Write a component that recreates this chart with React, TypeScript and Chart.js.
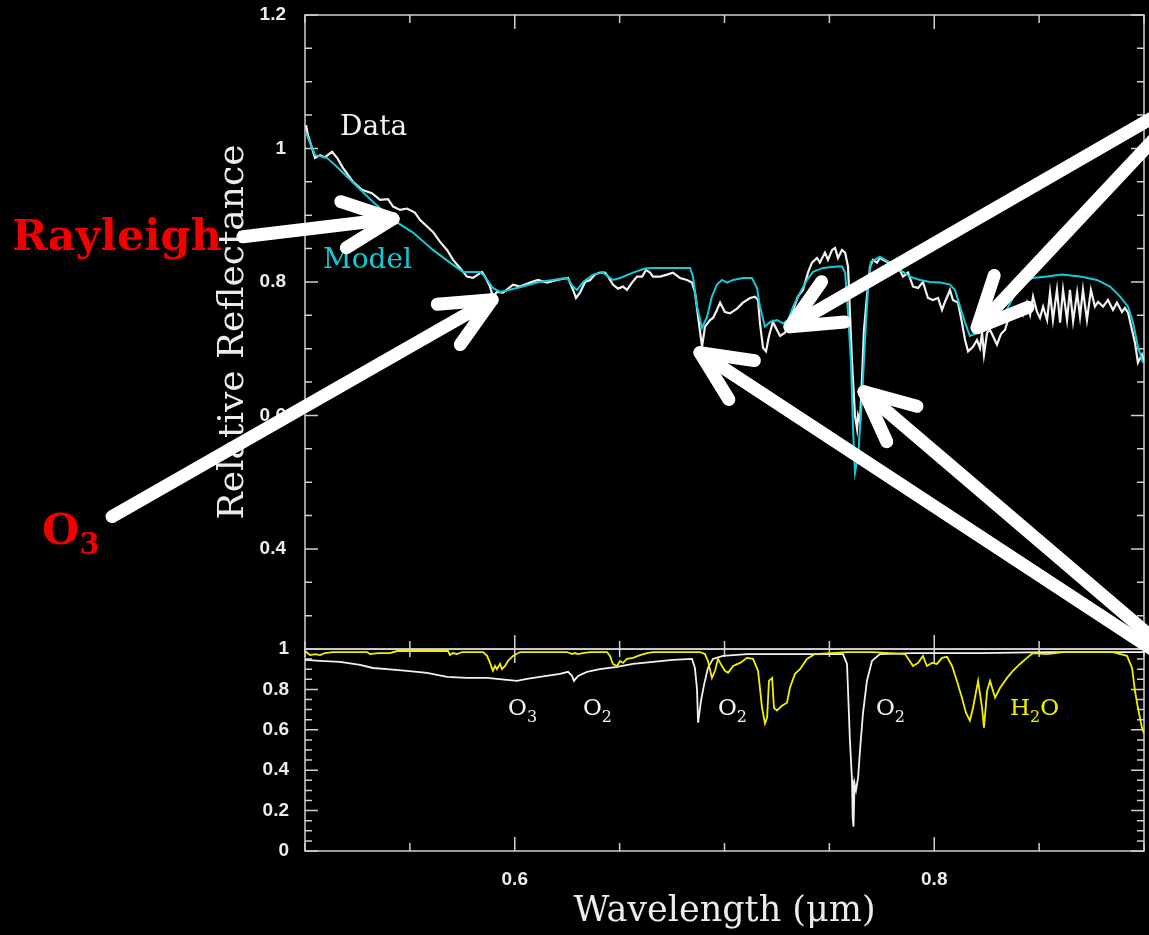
import React, { useEffect, useRef } from "react";
import { Chart, registerables } from "chart.js";

Chart.register(...registerables);

// ---------- Upper panel: relative reflectance ----------
const DATA_WL = [
  0.5005, 0.5014, 0.5048, 0.5072, 0.5095, 0.5129, 0.5153, 0.5181, 0.5229, 0.5272,
  0.5319, 0.5358, 0.5396, 0.542, 0.5453, 0.5486, 0.5524, 0.5548, 0.5582, 0.561,
  0.5644, 0.5677, 0.5706, 0.5739, 0.5772, 0.5801, 0.5844, 0.5858, 0.5882, 0.5896,
  0.5915, 0.5944, 0.5992, 0.6025, 0.6073, 0.6111, 0.6154, 0.6201, 0.6254, 0.6278,
  0.6292, 0.6311, 0.6335, 0.6359, 0.6383, 0.6406, 0.643, 0.6445, 0.6468, 0.6492,
  0.6516, 0.6535, 0.6559, 0.6583, 0.6607, 0.6626, 0.6645, 0.6659, 0.6693, 0.6726,
  0.6754, 0.6788, 0.6821, 0.6845, 0.6859, 0.6874, 0.6893, 0.6907, 0.6931, 0.6945,
  0.6964, 0.6979, 0.7002, 0.7026, 0.706, 0.7088, 0.7122, 0.7145, 0.716, 0.7169,
  0.7184, 0.7198, 0.7212, 0.7231, 0.725, 0.7265, 0.7288, 0.7303, 0.7327, 0.735,
  0.7374, 0.7398, 0.7417, 0.7441, 0.7455, 0.7479, 0.7493, 0.7513, 0.7527, 0.7541,
  0.756, 0.7575, 0.7589, 0.7598, 0.7608, 0.7622, 0.7632, 0.7637, 0.7646, 0.7656,
  0.7665, 0.7679, 0.7694, 0.7708, 0.7727, 0.7741, 0.7775, 0.7803, 0.7827, 0.7851,
  0.7875, 0.7899, 0.7923, 0.7946, 0.797, 0.7994, 0.8018, 0.8037, 0.8051, 0.8075,
  0.8089, 0.8113, 0.8132, 0.8147, 0.8161, 0.8185, 0.8204, 0.8218, 0.8228, 0.8237,
  0.8252, 0.8266, 0.828, 0.8299, 0.8318, 0.8337, 0.8352, 0.8371, 0.8385, 0.8409,
  0.8423, 0.8442, 0.8457, 0.8471, 0.849, 0.8504, 0.8519, 0.8538, 0.8552, 0.8566,
  0.8585, 0.86, 0.8614, 0.8633, 0.8647, 0.8662, 0.8681, 0.8695, 0.8709, 0.8728,
  0.8747, 0.8766, 0.8781, 0.8805, 0.8828, 0.8852, 0.8871, 0.8895, 0.8909, 0.8924,
  0.8943, 0.8957, 0.8971, 0.899, 0.9,
];
const DATA_R = [
  1.035, 1.02, 0.986, 0.99, 0.987, 0.995, 0.986, 0.971, 0.95, 0.938,
  0.933, 0.923, 0.924, 0.913, 0.908, 0.91, 0.904, 0.893, 0.883, 0.875,
  0.86, 0.848, 0.833, 0.821, 0.808, 0.806, 0.815, 0.808, 0.793, 0.778,
  0.785, 0.784, 0.796, 0.793, 0.799, 0.803, 0.799, 0.803, 0.806, 0.788,
  0.776, 0.784, 0.8, 0.803, 0.811, 0.814, 0.814, 0.808, 0.796, 0.79,
  0.793, 0.788, 0.799, 0.808, 0.808, 0.818, 0.814, 0.808, 0.808, 0.811,
  0.814, 0.806, 0.803, 0.799, 0.785, 0.748, 0.703, 0.733, 0.743, 0.746,
  0.758, 0.769, 0.755, 0.753, 0.76, 0.769, 0.776, 0.778, 0.773, 0.738,
  0.701, 0.696, 0.719, 0.74, 0.728, 0.719, 0.724, 0.733, 0.758, 0.778,
  0.788, 0.814, 0.829, 0.836, 0.829, 0.844, 0.833, 0.848, 0.851, 0.836,
  0.848, 0.844, 0.823, 0.754, 0.679, 0.6, 0.58, 0.6, 0.59, 0.659,
  0.728, 0.778, 0.823, 0.833, 0.829, 0.836, 0.83, 0.829, 0.823, 0.808,
  0.814, 0.793, 0.791, 0.8, 0.776, 0.773, 0.776, 0.758, 0.77, 0.788,
  0.773, 0.769, 0.739, 0.713, 0.696, 0.703, 0.713, 0.701, 0.724, 0.691,
  0.724, 0.728, 0.719, 0.706, 0.722, 0.728, 0.743, 0.751, 0.748, 0.763,
  0.751, 0.769, 0.751, 0.778, 0.755, 0.746, 0.763, 0.743, 0.784, 0.743,
  0.788, 0.739, 0.788, 0.743, 0.788, 0.741, 0.784, 0.748, 0.788, 0.743,
  0.788, 0.763, 0.77, 0.763, 0.773, 0.758, 0.769, 0.755, 0.761, 0.754,
  0.728, 0.709, 0.679, 0.691, 0.679,
];

const MODEL_WL = [
  0.5005, 0.5048, 0.5105, 0.5167, 0.5248, 0.5324, 0.542, 0.5515, 0.561, 0.5691,
  0.5753, 0.5834, 0.5858, 0.5896, 0.593, 0.6011, 0.6116, 0.6182, 0.6249, 0.6278,
  0.6297, 0.6326, 0.6373, 0.6421, 0.6468, 0.6502, 0.6564, 0.6621, 0.6659, 0.674,
  0.6836, 0.685, 0.6869, 0.6893, 0.6917, 0.694, 0.6964, 0.6988, 0.7012, 0.7041,
  0.7088, 0.7131, 0.7155, 0.7169, 0.7193, 0.7217, 0.725, 0.7279, 0.7303, 0.7327,
  0.736, 0.7393, 0.7422, 0.747, 0.7536, 0.756, 0.7575, 0.7589, 0.7603, 0.7613,
  0.7622, 0.7637, 0.7656, 0.767, 0.7684, 0.7698, 0.7741, 0.7789, 0.7837, 0.7884,
  0.7932, 0.798, 0.8028, 0.8075, 0.8099, 0.8123, 0.8147, 0.817, 0.8194, 0.8218,
  0.8252, 0.829, 0.8328, 0.8375, 0.8423, 0.8471, 0.8538, 0.8609, 0.8695, 0.8776,
  0.8838, 0.8886, 0.8924, 0.8948, 0.8971, 0.8995,
];
const MODEL_R = [
  1.023, 0.99, 0.986, 0.968, 0.943, 0.92, 0.893, 0.874, 0.848, 0.829,
  0.815, 0.815, 0.808, 0.791, 0.785, 0.791, 0.8, 0.803, 0.806, 0.793,
  0.788, 0.8, 0.811, 0.814, 0.803, 0.806, 0.814, 0.82, 0.821, 0.821,
  0.821, 0.808, 0.763, 0.731, 0.748, 0.778, 0.796, 0.803, 0.799, 0.803,
  0.806, 0.806, 0.791, 0.763, 0.733, 0.74, 0.743, 0.738, 0.743, 0.763,
  0.784, 0.803, 0.815, 0.821, 0.823, 0.823, 0.814, 0.754, 0.679, 0.579,
  0.514, 0.538, 0.628, 0.713, 0.788, 0.83, 0.838, 0.829, 0.818, 0.808,
  0.803, 0.8, 0.799, 0.796, 0.788, 0.763, 0.739, 0.719, 0.722, 0.731,
  0.736, 0.741, 0.748, 0.776, 0.799, 0.806, 0.808, 0.811, 0.808, 0.803,
  0.793, 0.778, 0.763, 0.739, 0.703, 0.679,
];

// ---------- Lower panel: transmission ----------
const O2O3_WL = [
  0.5, 0.5072, 0.5167, 0.5262, 0.5324, 0.5391, 0.5486, 0.5582, 0.5677, 0.5772,
  0.5868, 0.5963, 0.6011, 0.6058, 0.612, 0.6216, 0.6254, 0.6273, 0.6282, 0.6302,
  0.6344, 0.6406, 0.6488, 0.6564, 0.6659, 0.6754, 0.6845, 0.6859, 0.6869, 0.6874,
  0.6888, 0.6902, 0.6921, 0.6945, 0.6993, 0.7107, 0.7265, 0.7422, 0.7565, 0.7584,
  0.7589, 0.7598, 0.7608, 0.7611, 0.7615, 0.762, 0.7627, 0.7637, 0.7646, 0.766,
  0.7679, 0.7703, 0.7741, 0.7899, 0.8218, 0.8538, 0.9,
];
const O2O3_T = [
  0.946, 0.941, 0.936, 0.921, 0.906, 0.9, 0.892, 0.882, 0.862, 0.857,
  0.857, 0.847, 0.842, 0.852, 0.862, 0.877, 0.887, 0.867, 0.842, 0.867,
  0.887, 0.9, 0.911, 0.926, 0.936, 0.946, 0.951, 0.906, 0.8, 0.635,
  0.744, 0.82, 0.906, 0.951, 0.966, 0.975, 0.975, 0.975, 0.975, 0.926,
  0.793, 0.547, 0.35, 0.167, 0.12, 0.335, 0.3, 0.365, 0.498, 0.68,
  0.842, 0.941, 0.975, 0.98, 0.98, 0.985, 0.985,
];

const H2O_WL = [
  0.5, 0.5024, 0.5048, 0.5072, 0.5095, 0.5133, 0.5296, 0.531, 0.5348, 0.5405,
  0.5439, 0.5682, 0.5691, 0.5706, 0.5725, 0.5749, 0.5849, 0.5868, 0.5882, 0.5896,
  0.5906, 0.5915, 0.593, 0.5939, 0.5954, 0.5968, 0.5992, 0.6025, 0.6249, 0.6273,
  0.6287, 0.6302, 0.6325, 0.6359, 0.644, 0.6454, 0.6468, 0.6488, 0.6502, 0.6516,
  0.6535, 0.6564, 0.6597, 0.6631, 0.6659, 0.6883, 0.6907, 0.6921, 0.694, 0.6955,
  0.6969, 0.6988, 0.7002, 0.7017, 0.7041, 0.7074, 0.7107, 0.7136, 0.716, 0.7179,
  0.7193, 0.7203, 0.7212, 0.7227, 0.7236, 0.725, 0.7274, 0.7298, 0.7312, 0.7336,
  0.736, 0.7393, 0.7431, 0.7584, 0.7708, 0.7861, 0.7899, 0.7923, 0.7946, 0.7965,
  0.7989, 0.8013, 0.8037, 0.8061, 0.8085, 0.8108, 0.8132, 0.8151, 0.817, 0.8185,
  0.8209, 0.8228, 0.8237, 0.8252, 0.8266, 0.829, 0.8314, 0.8347, 0.8375, 0.8409,
  0.8442, 0.8471, 0.8538, 0.8614, 0.8852, 0.8919, 0.8943, 0.8957, 0.8971, 0.899,
  0.9,
];
const H2O_T = [
  0.99, 0.97, 0.975, 0.97, 0.98, 0.985, 0.985, 0.975, 0.98, 0.98,
  0.99, 0.99, 0.97, 0.98, 0.975, 0.985, 0.985, 0.966, 0.931, 0.892,
  0.916, 0.9, 0.926, 0.9, 0.916, 0.941, 0.966, 0.985, 0.985, 0.975,
  0.98, 0.975, 0.98, 0.985, 0.985, 0.966, 0.926, 0.916, 0.941, 0.931,
  0.951, 0.956, 0.97, 0.98, 0.985, 0.985, 0.975, 0.941, 0.857, 0.892,
  0.951, 0.916, 0.892, 0.882, 0.916, 0.931, 0.956, 0.951, 0.892, 0.709,
  0.631, 0.66, 0.842, 0.857, 0.709, 0.695, 0.719, 0.734, 0.808, 0.877,
  0.9, 0.951, 0.975, 0.985, 0.985, 0.975, 0.916, 0.931, 0.966, 0.916,
  0.931, 0.926, 0.956, 0.961, 0.916, 0.842, 0.759, 0.685, 0.645, 0.709,
  0.842, 0.709, 0.611, 0.793, 0.842, 0.759, 0.808, 0.857, 0.892, 0.926,
  0.956, 0.98, 0.975, 0.985, 0.985, 0.966, 0.906, 0.793, 0.709, 0.611,
  0.581,
];
const UNITY_LEVEL = 1;

// ---------- Axes ----------
const X_RANGE = [0.5, 0.9];
const TOP_RANGE = [0.25, 1.2];
const BOT_RANGE = [0, 1];
const MINOR_STEP = 0.05;
const X_TICK_LABELS = [0.6, 0.8];
const TOP_TICK_LABELS = [0.4, 0.6, 0.8, 1.0, 1.2];
const BOT_TICK_LABELS = [0, 0.2, 0.4, 0.6, 0.8, 1.0];

// ---------- Annotations (data units of the upper panel) ----------
const ARROW_TIP_WL = [0.542, 0.5892, 0.6883, 0.7665, 0.7312, 0.8204];
const ARROW_TIP_R = [0.8946, 0.7734, 0.694, 0.6356, 0.7329, 0.7314];
const ARROW_TAIL_WL = [0.4704, 0.408, 0.9196, 0.9172, 0.9196, 0.9196];
const ARROW_TAIL_R = [0.8677, 0.4485, 0.217, 0.2316, 1.0743, 1.0638];

const CURVE_LABELS = ["Data", "Model"];
const CURVE_LABEL_WL = [0.5167, 0.5086];
const CURVE_LABEL_R = [1.0204, 0.8213];

const RED_LABELS = ["Rayleigh", "O_3"];
const RED_LABEL_WL = [0.3603, 0.3746];
const RED_LABEL_R = [0.8482, 0.4066];

const SPECIES_LABELS = ["O_3", "O_2", "O_2", "O_2", "H_2O"];
const SPECIES_WL = [0.5968, 0.6325, 0.6969, 0.7722, 0.8361];
const SPECIES_T = 0.673;

// ---------- Styles ----------
const WHITE = "#f2f2f2";
const CYAN = "#16c9d8";
const YELLOW = "#f0f000";
const FRAME = "#d0d0d0";
const TEXT = "#ececec";
const RED = "#f20000";
const SPECIES_COLORS = [WHITE, WHITE, WHITE, WHITE, YELLOW];
const CURVE_LABEL_COLORS = [WHITE, CYAN];
const SERIF = '"DejaVu Serif"';

const near = (list: number[], v: number) => list.some((l) => Math.abs(l - v) < 1e-6);
const fmt = (v: number) => String(+v.toFixed(2));
const stepTicks = (min: number, max: number, step: number) => {
  const out: number[] = [];
  const n = Math.round((max - min) / step);
  for (let i = 0; i <= n; i++) out.push(+(min + i * step).toFixed(4));
  return out;
};
const pts = (xs: number[], ys: number[]) => xs.map((x, i) => ({ x, y: ys[i] }));

function drawRich(ctx: CanvasRenderingContext2D, text: string, x: number, y: number, size: number, subSize: number, subDrop: number, family: string, weight: string) {
  let cx = x;
  for (let i = 0; i < text.length; i++) {
    let ch = text[i];
    let sub = false;
    if (ch === "_") {
      i++;
      ch = text[i];
      sub = true;
    }
    ctx.font = `${weight} ${sub ? subSize : size}px ${family}`;
    ctx.fillText(ch, cx, sub ? y + subDrop : y);
    cx += ctx.measureText(ch).width;
  }
}

const bgPlugin = {
  id: "bg",
  beforeDraw(chart: any) {
    const c = chart.ctx;
    c.save();
    c.fillStyle = "#000";
    c.fillRect(0, 0, chart.width, chart.height);
    c.restore();
  },
};

const framePlugin = {
  id: "frame",
  beforeDatasetsDraw(chart: any) {
    const ctx = chart.ctx as CanvasRenderingContext2D;
    const xs = chart.scales.x;
    const L = xs.left;
    const R = xs.right;
    ctx.save();
    ctx.strokeStyle = FRAME;
    ctx.lineWidth = 1.5;
    for (const ys of [chart.scales.yTop, chart.scales.yBot]) {
      const labels = ys.id === "yTop" ? TOP_TICK_LABELS : BOT_TICK_LABELS;
      ctx.strokeRect(L, ys.top, R - L, ys.bottom - ys.top);
      ctx.beginPath();
      for (const t of ys.ticks) {
        const py = ys.getPixelForValue(t.value);
        const len = near(labels, t.value) ? 13 : 7;
        ctx.moveTo(L, py);
        ctx.lineTo(L + len, py);
        ctx.moveTo(R, py);
        ctx.lineTo(R - len, py);
      }
      for (const t of xs.ticks) {
        const px = xs.getPixelForValue(t.value);
        const len = near(X_TICK_LABELS, t.value) ? 14 : 8;
        ctx.moveTo(px, ys.top);
        ctx.lineTo(px, ys.top + len);
        ctx.moveTo(px, ys.bottom);
        ctx.lineTo(px, ys.bottom - len);
      }
      ctx.stroke();
    }
    ctx.restore();
  },
};

const HEAD_LEN = 55;
const HEAD_ANGLE = (25 * Math.PI) / 180;
const ARROW_WIDTH = 13;

const notesPlugin = {
  id: "notes",
  afterDraw(chart: any) {
    const ctx = chart.ctx as CanvasRenderingContext2D;
    const xs = chart.scales.x;
    const yt = chart.scales.yTop;
    const yb = chart.scales.yBot;
    ctx.save();
    ctx.textAlign = "left";
    ctx.textBaseline = "alphabetic";

    // curve labels
    CURVE_LABELS.forEach((t, i) => {
      ctx.font = `28px ${SERIF}`;
      ctx.fillStyle = CURVE_LABEL_COLORS[i];
      ctx.fillText(t, xs.getPixelForValue(CURVE_LABEL_WL[i]), yt.getPixelForValue(CURVE_LABEL_R[i]));
    });

    // species labels in lower panel
    SPECIES_LABELS.forEach((t, i) => {
      ctx.fillStyle = SPECIES_COLORS[i];
      drawRich(ctx, t, xs.getPixelForValue(SPECIES_WL[i]), yb.getPixelForValue(SPECIES_T), 23, 16, 7, SERIF, "normal");
    });

    // arrows
    ctx.strokeStyle = "#ffffff";
    ctx.lineWidth = ARROW_WIDTH;
    ctx.lineCap = "round";
    ctx.lineJoin = "round";
    ARROW_TIP_WL.forEach((_, i) => {
      const tx = xs.getPixelForValue(ARROW_TIP_WL[i]);
      const ty = yt.getPixelForValue(ARROW_TIP_R[i]);
      const bx = xs.getPixelForValue(ARROW_TAIL_WL[i]);
      const by = yt.getPixelForValue(ARROW_TAIL_R[i]);
      const ang = Math.atan2(by - ty, bx - tx);
      ctx.beginPath();
      ctx.moveTo(bx, by);
      ctx.lineTo(tx, ty);
      ctx.stroke();
      ctx.beginPath();
      ctx.moveTo(tx + HEAD_LEN * Math.cos(ang - HEAD_ANGLE), ty + HEAD_LEN * Math.sin(ang - HEAD_ANGLE));
      ctx.lineTo(tx, ty);
      ctx.lineTo(tx + HEAD_LEN * Math.cos(ang + HEAD_ANGLE), ty + HEAD_LEN * Math.sin(ang + HEAD_ANGLE));
      ctx.stroke();
    });

    // red labels
    ctx.fillStyle = RED;
    RED_LABELS.forEach((t, i) => {
      drawRich(ctx, t, xs.getPixelForValue(RED_LABEL_WL[i]), yt.getPixelForValue(RED_LABEL_R[i]), 43, 29, 10, SERIF, "bold");
    });
    ctx.restore();
  },
};

const tickFont = { family: "Liberation Sans", size: 19, weight: "bold" as const };
const noGrid = { display: false, drawTicks: false, tickLength: 0 };
const zeroPad = (s: any) => {
  s.paddingTop = 0;
  s.paddingBottom = 0;
  s.paddingLeft = 0;
  s.paddingRight = 0;
};

export default function App() {
  const ref = useRef<HTMLCanvasElement>(null);

  useEffect(() => {
    if (!ref.current) return;
    const chart = new Chart(ref.current, {
      type: "line",
      data: {
        datasets: [
          { label: "Model", data: pts(MODEL_WL, MODEL_R), yAxisID: "yTop", borderColor: CYAN, borderWidth: 2, pointRadius: 0, tension: 0, fill: false },
          { label: "Data", data: pts(DATA_WL, DATA_R), yAxisID: "yTop", borderColor: WHITE, borderWidth: 2.2, pointRadius: 0, tension: 0, fill: false },
          { label: "H2O", data: pts(H2O_WL, H2O_T), yAxisID: "yBot", borderColor: YELLOW, borderWidth: 1.8, pointRadius: 0, tension: 0, fill: false },
          { label: "Unity", data: pts(X_RANGE, [UNITY_LEVEL, UNITY_LEVEL]), yAxisID: "yBot", borderColor: YELLOW, borderWidth: 1.6, pointRadius: 0, tension: 0, fill: false },
          { label: "O2 O3", data: pts(O2O3_WL, O2O3_T), yAxisID: "yBot", borderColor: WHITE, borderWidth: 1.8, pointRadius: 0, tension: 0, fill: false },
        ],
      },
      options: {
        animation: false,
        responsive: false,
        events: [],
        layout: { padding: { left: 0, right: 5, top: 15, bottom: 0 } },
        plugins: { legend: { display: false }, tooltip: { enabled: false }, title: { display: false } },
        scales: {
          x: {
            type: "linear",
            position: "bottom",
            min: X_RANGE[0],
            max: X_RANGE[1],
            grid: noGrid,
            border: { display: false },
            ticks: {
              autoSkip: false,
              maxRotation: 0,
              minRotation: 0,
              color: TEXT,
              font: tickFont,
              padding: 17,
              callback: (v: any) => (near(X_TICK_LABELS, Number(v)) ? fmt(Number(v)) : ""),
            },
            afterBuildTicks: (s: any) => {
              s.ticks = stepTicks(X_RANGE[0], X_RANGE[1], MINOR_STEP).map((value) => ({ value }));
            },
            afterFit: (s: any) => {
              s.height = 84;
              zeroPad(s);
            },
            title: {
              display: true,
              text: "Wavelength (μm)",
              color: TEXT,
              font: { family: "DejaVu Serif", size: 35 },
              padding: { top: 0, bottom: 2 },
            },
          },
          yBot: {
            type: "linear",
            position: "left",
            stack: "panels",
            stackWeight: 202,
            weight: 0,
            min: BOT_RANGE[0],
            max: BOT_RANGE[1],
            grid: noGrid,
            border: { display: false },
            ticks: {
              autoSkip: false,
              color: TEXT,
              font: tickFont,
              padding: 16,
              callback: (v: any) => (near(BOT_TICK_LABELS, Number(v)) ? fmt(Number(v)) : ""),
            },
            afterBuildTicks: (s: any) => {
              s.ticks = stepTicks(BOT_RANGE[0], BOT_RANGE[1], MINOR_STEP).map((value) => ({ value }));
            },
            afterFit: (s: any) => {
              s.width = 305;
              zeroPad(s);
            },
          },
          yTop: {
            type: "linear",
            position: "left",
            stack: "panels",
            stackWeight: 634,
            weight: 1,
            min: TOP_RANGE[0],
            max: TOP_RANGE[1],
            grid: noGrid,
            border: { display: false },
            ticks: {
              autoSkip: false,
              color: TEXT,
              font: tickFont,
              padding: 19,
              callback: (v: any) => (near(TOP_TICK_LABELS, Number(v)) ? fmt(Number(v)) : ""),
            },
            afterBuildTicks: (s: any) => {
              s.ticks = stepTicks(TOP_RANGE[0], TOP_RANGE[1], MINOR_STEP).map((value) => ({ value }));
            },
            afterFit: (s: any) => {
              s.width = 305;
              zeroPad(s);
            },
            title: {
              display: true,
              text: "Relative Reflectance",
              color: TEXT,
              font: { family: "DejaVu Serif", size: 36 },
              padding: { top: 212, bottom: 0 },
            },
          },
        },
      } as any,
      plugins: [bgPlugin, framePlugin, notesPlugin],
    });
    return () => chart.destroy();
  }, []);

  return (
    <div style={{ position: "fixed", left: 0, top: 0, width: 1149, height: 935, background: "#000" }}>
      <canvas ref={ref} width={1149} height={935} style={{ display: "block" }} />
    </div>
  );
}
